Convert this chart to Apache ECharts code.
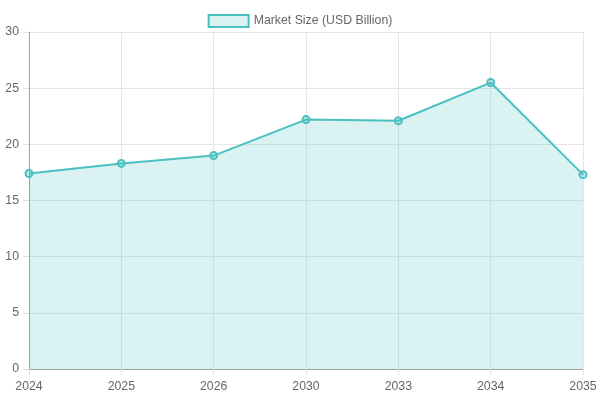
<!DOCTYPE html>
<html><head><meta charset="utf-8">
<script src="https://cdn.jsdelivr.net/npm/echarts@6/dist/echarts.min.js"></script>
<style>html,body{margin:0;padding:0;background:#fff}#c{width:600px;height:400px}</style>
</head><body><div id="c"></div>
<script>
const categories = ['2024','2025','2026','2030','2033','2034','2035'];
const marketSize = [17.4, 18.3, 19.0, 22.2, 22.1, 25.5, 17.3];
const seriesName = 'Market Size (USD Billion)';

const chart = echarts.init(document.getElementById('c'), null, {renderer:'canvas'});
const font = '"Liberation Sans", Arial, sans-serif';
chart.setOption({
  animation: false,
  textStyle: {fontFamily: font},
  legend: {
    top: 9, left: 'center',
    icon: 'rect', itemWidth: 40, itemHeight: 12, itemGap: 10,
    textStyle: {color: '#666', fontSize: 12.3, fontFamily: font},
    itemStyle: {color: 'rgba(75,192,192,0.2)', borderColor: '#4bc0c0', borderWidth: 2},
    data: [seriesName]
  },
  grid: {left: 29, right: 17, top: 32, bottom: 31, containLabel: false},
  xAxis: {
    type: 'category', data: categories, boundaryGap: false,
    axisLine: {lineStyle: {color: '#a0a0a0'}},
    axisTick: {show: true, length: 6, lineStyle: {color: '#e0e0e0'}},
    axisLabel: {color: '#666', fontSize: 12.3, margin: 12, fontFamily: font},
    splitLine: {show: true, lineStyle: {color: '#e6e6e6'}}
  },
  yAxis: {
    type: 'value', min: 0, max: 30, interval: 5,
    axisLine: {show: true, lineStyle: {color: '#a0a0a0'}},
    axisTick: {show: true, length: 6, lineStyle: {color: '#e0e0e0'}},
    axisLabel: {color: '#666', fontSize: 12.3, margin: 10, fontFamily: font},
    splitLine: {show: true, lineStyle: {color: '#e6e6e6'}}
  },
  series: [{
    name: seriesName, type: 'line', data: marketSize,
    symbol: 'circle', symbolSize: 7,
    lineStyle: {color: '#4bc0c0', width: 2},
    itemStyle: {color: 'rgba(75,192,192,0.3)', borderColor: '#4bc0c0', borderWidth: 2},
    areaStyle: {color: 'rgba(75,192,192,0.2)', opacity: 1}
  }]
});
</script></body></html>
